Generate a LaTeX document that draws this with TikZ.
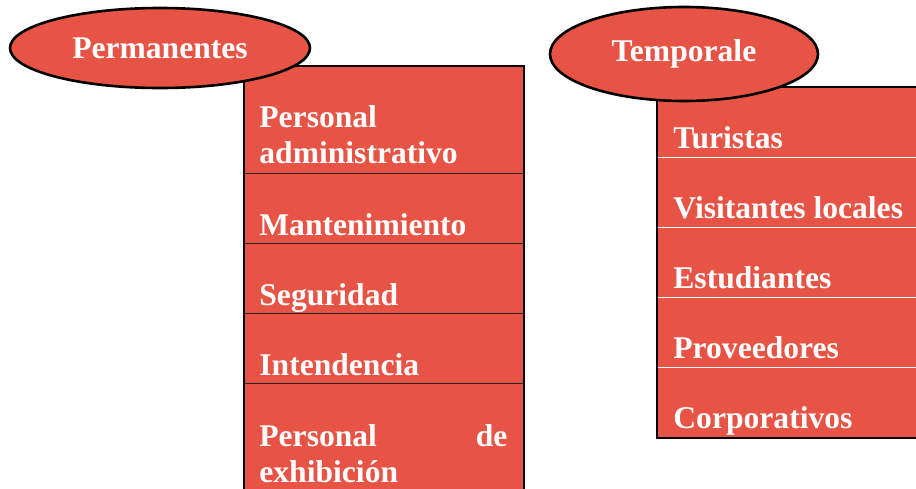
\documentclass[tikz,border=0pt]{standalone}
\usepackage{fontspec}
\setmainfont{Liberation Serif}
\usetikzlibrary{positioning,shapes.geometric,calc}
\definecolor{tomato}{HTML}{E75344}
\tikzset{
  grp/.style={ellipse, draw=black, fill=tomato, line width=1.3pt, inner sep=0pt,
              text=white, font=\fontsize{15.8pt}{18pt}\selectfont\bfseries},
  cell/.style={rectangle, fill=tomato, anchor=north west, inner sep=0pt,
               minimum width=#1},
  itm/.style={anchor=base west, inner sep=0pt, text=white, align=left,
              font=\fontsize{15.8pt}{18pt}\selectfont\bfseries},
  sepdark/.style={draw=black!85, line width=0.5pt},
  seplight/.style={draw=white, line width=0.5pt},
  frame/.style={draw=black, line width=0.9pt},
}

\begin{document}
\begin{tikzpicture}[x=0.5pt, y=-0.5pt]
  \useasboundingbox (0,0) rectangle (916,488);
  \clip (0,0) rectangle (916,488);

  % permanentes
  \node[cell=139.5pt, minimum height=53.5pt] (pa) at (244,66) {};
  \node[cell=139.5pt, minimum height=35pt] (ma) at (244,173) {};
  \node[cell=139.5pt, minimum height=35pt] (se) at (244,243) {};
  \node[cell=139.5pt, minimum height=35pt] (in) at (244,313) {};
  \node[cell=139.5pt, minimum height=55pt] (ex) at (244,383) {};
  \draw[sepdark] (pa.south west) -- (pa.south east);
  \draw[sepdark] (ma.south west) -- (ma.south east);
  \draw[sepdark] (se.south west) -- (se.south east);
  \draw[sepdark] (in.south west) -- (in.south east);
  \draw[frame] (pa.north west) rectangle (ex.south east);
  \node[itm] (tpa) at ($(pa.south west)+(15,-10)$) {Personal\\administrativo};
  \node[itm] (tma) at ($(ma.south west)+(15,-8.5)$) {Mantenimiento};
  \node[itm] (tse) at ($(se.south west)+(15,-8.5)$) {Seguridad};
  \node[itm] (tin) at ($(in.south west)+(15,-8.5)$) {Intendencia};
  \node[itm, text width=124pt] (tex) at ($(in.south west)+(15,63)$) {Personal\hfill de\\exhibición};

  % temporales
  \node[cell=136.5pt, minimum height=35pt] (tu) at (657,87) {};
  \node[cell=136.5pt, minimum height=35pt] (vl) at (657,157) {};
  \node[cell=136.5pt, minimum height=35pt] (es) at (657,227) {};
  \node[cell=136.5pt, minimum height=35pt] (pr) at (657,297) {};
  \node[cell=136.5pt, minimum height=35pt] (co) at (657,367) {};
  \draw[seplight] (tu.south west) -- (tu.south east);
  \draw[seplight] (vl.south west) -- (vl.south east);
  \draw[seplight] (es.south west) -- (es.south east);
  \draw[seplight] (pr.south west) -- (pr.south east);
  \draw[frame] (tu.north west) rectangle (co.south east);
  \node[itm] (ttu) at ($(tu.south west)+(16,-9)$) {Turistas};
  \node[itm] (tvl) at ($(vl.south west)+(16,-9)$) {Visitantes locales};
  \node[itm] (tes) at ($(es.south west)+(16,-9)$) {Estudiantes};
  \node[itm] (tpr) at ($(pr.south west)+(16,-9)$) {Proveedores};
  \node[itm] (tco) at ($(co.south west)+(16,-9)$) {Corporativos};

  % group headers
  \node[grp, minimum width=150pt, minimum height=40pt] (perm) at (160,48) {Permanentes};
  \node[grp, minimum width=134pt, minimum height=47pt] (temp) at (684,54) {Temporale};
\end{tikzpicture}
\end{document}
